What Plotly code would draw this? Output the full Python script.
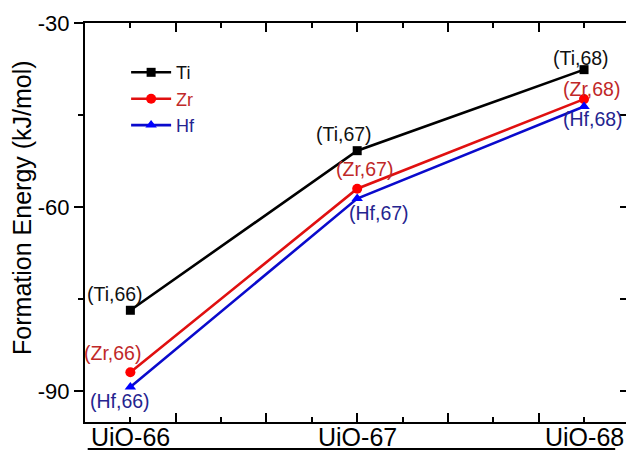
import plotly.graph_objects as go

# ---- data ----
categories = ["UiO-66", "UiO-67", "UiO-68"]
x_pos = [1, 2, 3]
ti_values = [-76.8, -50.8, -37.6]
zr_values = [-86.9, -57.0, -42.4]
hf_values = [-89.3, -58.6, -43.6]
y_tick_vals = [-30, -60, -90]
y_tick_labels = ["-30", "-60", "-90"]

series = [
    dict(name="Ti", values=ti_values, line="#000000", marker="#000000", text="#111111",
         symbol="square", size=9, label_off=[(-15, 16), (-13, 17), (-3, 12)]),
    dict(name="Zr", values=zr_values, line="#e01010", marker="#ff0000", text="#c02828",
         symbol="circle", size=10, label_off=[(-18, 19), (7, 20), (7, 10)]),
    dict(name="Hf", values=hf_values, line="#0a0acc", marker="#0000ff", text="#24248f",
         symbol="triangle-up", size=10, label_off=[(-10, -14), (22, -14), (9, -13)]),
]
suffix = ["66", "67", "68"]
FONT = "Liberation Sans, Arial"

fig = go.Figure()
annotations = []
for s in series:
    fig.add_trace(go.Scatter(
        x=x_pos, y=s["values"], mode="lines+markers",
        name=f"<span style='color:{s['text']}'>{s['name']}</span>",
        line=dict(color=s["line"], width=2.6),
        marker=dict(color=s["marker"], symbol=s["symbol"], size=s["size"]),
    ))
    for i, (xv, yv) in enumerate(zip(x_pos, s["values"])):
        dx, dy = s["label_off"][i]
        annotations.append(dict(
            x=xv, y=yv, xref="x", yref="y", text=f"({s['name']},{suffix[i]})",
            showarrow=False, xshift=dx, yshift=dy,
            font=dict(family=FONT, size=19.5, color=s["text"]),
        ))

# category labels under the axis
for xv, c in zip(x_pos, categories):
    annotations.append(dict(
        x=xv, y=-0.038, xref="x", yref="paper", text=c, showarrow=False,
        xanchor="center", yanchor="middle",
        font=dict(family=FONT, size=25, color="#000000"),
    ))

# y axis title
annotations.append(dict(
    x=-0.1165, y=0.539, xref="paper", yref="paper", text="Formation Energy (kJ/mol)",
    textangle=-90, showarrow=False, xanchor="center", yanchor="middle",
    font=dict(family=FONT, size=25, color="#000000"),
))

# invisible trace to activate the right-hand tick axis
fig.add_trace(go.Scatter(x=[x_pos[0]], y=[ti_values[0]], yaxis="y2", mode="markers",
                         marker=dict(opacity=0), showlegend=False, hoverinfo="skip"))

fig.update_layout(
    width=626, height=451,
    margin=dict(l=85, r=0, t=23, b=29),
    paper_bgcolor="white", plot_bgcolor="white",
    font=dict(family=FONT, color="#000000"),
    showlegend=True,
    legend=dict(x=0.076, y=0.922, xanchor="left", yanchor="top",
                bgcolor="rgba(0,0,0,0)", borderwidth=0, itemwidth=40,
                font=dict(family=FONT, size=18),
                tracegroupgap=0),
    xaxis=dict(range=[0.8, 3.185], tick0=0.8, dtick=0.4, ticks="inside", ticklen=9,
               tickwidth=2, tickcolor="#000", showticklabels=False, showgrid=False,
               zeroline=False, showline=True, linecolor="#000", linewidth=2, mirror="ticks",
               minor=dict(dtick=0.2, tick0=0.8, ticks="inside", ticklen=5, tickwidth=2,
                          tickcolor="#000", showgrid=False)),
    yaxis=dict(range=[-95, -30], tickvals=y_tick_vals, ticktext=y_tick_labels,
               ticks="outside", ticklen=9,
               tickwidth=2, tickcolor="#000", showgrid=False, zeroline=False,
               showline=True, linecolor="#000", linewidth=2,
               tickfont=dict(family=FONT, size=22),
               minor=dict(dtick=15, ticks="outside", ticklen=5, tickwidth=2,
                          tickcolor="#000", showgrid=False)),
    yaxis2=dict(range=[-95, -30], overlaying="y", side="right", anchor="x",
                tickvals=[-90, -75, -60, -45], ticks="inside", ticklen=6, tickwidth=2,
                tickcolor="#000", showticklabels=False, showgrid=False, zeroline=False,
                showline=False),
    annotations=annotations,
    shapes=[dict(type="line", xref="paper", yref="paper", x0=0.005, x1=0.98,
                 y0=-0.0675, y1=-0.0675, line=dict(color="#000", width=2))],
)

fig.write_html("out.html", config={"displayModeBar": False},
               post_script="document.body.style.margin='0';document.body.style.overflow='hidden';")
